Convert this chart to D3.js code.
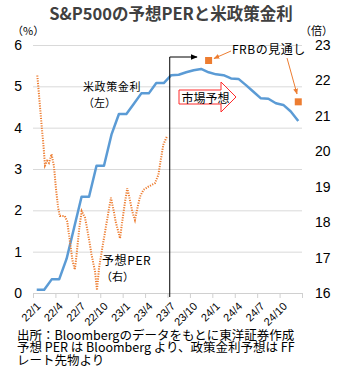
<!DOCTYPE html>
<html><head><meta charset="utf-8">
<script src="https://cdn.jsdelivr.net/npm/d3@7"></script>
<style>body{margin:0;background:#fff}svg{display:block}</style>
</head><body><svg id="c" width="340" height="380"></svg>
<script>
// ---- data ----
const months = d3.range(36).map(i => `${22 + Math.floor(i / 12)}/${i % 12 + 1}`);
const tickLabels = ["22/1","22/4","22/7","22/10","23/1","23/4","23/7","23/10","24/1","24/4","24/7","24/10"];
const policyRate = [0.08,0.08,0.33,0.33,0.83,1.58,2.33,2.33,3.08,3.08,3.83,4.33,
  4.33,4.58,4.83,4.83,5.08,5.08,5.27,5.28,5.34,5.39,5.42,5.34,
  5.29,5.27,5.19,5.18,5.03,4.87,4.71,4.70,4.59,4.55,4.39,4.16];
const perDates = ["2022-01-19","2022-01-27","2022-02-05","2022-02-11","2022-02-18","2022-02-26",
  "2022-03-05","2022-03-16","2022-03-26","2022-04-03","2022-04-12","2022-04-19","2022-05-09",
  "2022-05-19","2022-05-30","2022-06-10","2022-06-19","2022-06-26","2022-07-07","2022-07-17",
  "2022-07-31","2022-08-13","2022-08-27","2022-09-10","2022-09-18","2022-09-26","2022-10-07",
  "2022-10-21","2022-11-03","2022-11-14","2022-11-23","2022-12-03","2022-12-14","2022-12-21",
  "2022-12-30","2023-01-11","2023-01-20","2023-01-31","2023-02-09","2023-02-19","2023-02-28",
  "2023-03-11","2023-03-25","2023-04-14","2023-05-11","2023-05-25","2023-06-05","2023-06-14",
  "2023-06-28"];
const perValues = [22.14,21.50,20.75,20.28,19.60,19.73,19.67,19.92,19.58,18.96,18.40,18.17,18.17,
  18.02,17.46,16.90,16.66,17.08,17.84,18.31,18.12,17.65,17.08,16.61,16.08,16.70,17.17,
  17.73,18.25,18.69,18.39,18.01,17.73,17.54,18.01,18.58,18.96,18.63,18.30,18.06,18.39,
  18.72,18.91,19.00,19.10,19.33,19.80,20.18,20.41];
const frbMonths = ["23/12","24/12"];
const frbValues = [5.625, 4.625];
const leftTicks = [0,1,2,3,4,5,6];
const rightTicks = [16,17,18,19,20,21,22,23];

// ---- setup ----
const svg = d3.select("#c");
const m = {l: 33, r: 302, t: 45, b: 293};
const x = d3.scaleLinear().domain([0, 36]).range([m.l, m.r]);
const yL = d3.scaleLinear().domain([0, 6]).range([m.b, m.t]);
const yR = d3.scaleLinear().domain([16, 23]).range([m.b, m.t]);
const parse = d3.timeParse("%Y-%m-%d");
function monthT(s) {
  const d = parse(s);
  const y = d.getFullYear(), mo = d.getMonth();
  const dim = new Date(y, mo + 1, 0).getDate();
  return (y - 2022) * 12 + mo + (d.getDate() - 1) / dim;
}
const mPos = lab => months.indexOf(lab) + 0.5;
const JP = "'Noto Sans CJK JP', sans-serif";
const NUM = "'Liberation Sans', Arial, sans-serif";

// title
svg.append("text").attr("x", 171).attr("y", 20).attr("text-anchor", "middle")
  .attr("font-family", JP).attr("font-weight", "bold").attr("font-size", 16.5)
  .attr("fill", "#404040").text("S&P500の予想PERと米政策金利");

// gridlines
svg.append("g").attr("transform", `translate(${m.l},0)`)
  .call(d3.axisLeft(yL).tickValues(leftTicks.slice(1)).tickSize(-(m.r - m.l)).tickFormat(""))
  .call(g => g.select(".domain").remove())
  .call(g => g.selectAll("line").attr("stroke", "#d9d9d9"));

// left axis labels
svg.append("g").attr("transform", `translate(${m.l},0)`)
  .call(d3.axisLeft(yL).tickValues(leftTicks).tickSize(0).tickPadding(11).tickFormat(d3.format("d")))
  .call(g => g.select(".domain").remove())
  .call(g => g.selectAll("text").attr("font-family", NUM).attr("font-size", 14).attr("fill", "#000"));

// right axis labels
svg.append("g").attr("transform", `translate(${m.r},0)`)
  .call(d3.axisRight(yR).tickValues(rightTicks).tickSize(0).tickPadding(13).tickFormat(d3.format("d")))
  .call(g => g.select(".domain").remove())
  .call(g => g.selectAll("text").attr("font-family", NUM).attr("font-size", 14).attr("fill", "#000"));

// x axis ticks
svg.append("g").attr("transform", `translate(0,${m.b})`)
  .call(d3.axisBottom(x).tickValues(d3.range(0, 37, 3)).tickSize(5).tickSizeOuter(0).tickFormat(""))
  .call(g => g.selectAll("line,path").attr("stroke", "#d0d0d0"));

// x axis labels
svg.append("g").attr("transform", `translate(0,${m.b})`)
  .call(d3.axisBottom(x).tickValues(tickLabels.map(mPos)).tickSize(0)
    .tickFormat((d, i) => tickLabels[i]))
  .call(g => g.select(".domain").remove())
  .call(g => g.selectAll("text").attr("y", 0).attr("dy", 0)
    .attr("text-anchor", "end").attr("transform", "translate(4,14) rotate(-45)")
    .attr("font-family", NUM).attr("font-size", 11).attr("fill", "#000"));

// unit labels
svg.append("text").attr("x", 12).attr("y", 35).attr("font-family", JP).attr("font-size", 11).text("（%）");
svg.append("text").attr("x", 300).attr("y", 35).attr("font-family", JP).attr("font-size", 11).text("（倍）");

// policy rate line
svg.append("path").datum(policyRate)
  .attr("fill", "none").attr("stroke", "#5B9BD5").attr("stroke-width", 2.5).attr("stroke-linejoin", "round")
  .attr("d", d3.line().x((d, i) => x(i + 0.5)).y(d => yL(d)));

// PER line
const perData = perDates.map((d, i) => ({t: monthT(d), v: perValues[i]}));
svg.append("path").datum(perData)
  .attr("fill", "none").attr("stroke", "#ED7D31").attr("stroke-width", 2)
  .attr("stroke-dasharray", "1.2,1.3")
  .attr("d", d3.line().x(d => x(d.t)).y(d => yR(d.v)));

// FRB squares
svg.selectAll("rect.frb").data(frbValues).join("rect").attr("class", "frb")
  .attr("x", (d, i) => x(mPos(frbMonths[i])) - 3.5).attr("y", d => yL(d) - 3.5)
  .attr("width", 7).attr("height", 7).attr("fill", "#ED7D31");

// arrow markers
const defs = svg.append("defs");
defs.append("marker").attr("id", "ob").attr("viewBox", "0 0 10 10").attr("refX", 9).attr("refY", 5)
  .attr("markerWidth", 6).attr("markerHeight", 6).attr("orient", "auto")
  .append("path").attr("d", "M0,1L10,5L0,9Z").attr("fill", "#ED7D31");
defs.append("marker").attr("id", "bk").attr("viewBox", "0 0 10 10").attr("refX", 9).attr("refY", 5)
  .attr("markerWidth", 7).attr("markerHeight", 7).attr("orient", "auto")
  .append("path").attr("d", "M0,1L10,5L0,9Z").attr("fill", "#000");

// FRB annotation
svg.append("text").attr("x", 232).attr("y", 54).attr("font-family", JP).attr("font-size", 12)
  .attr("letter-spacing", 0.5).text("FRBの見通し");
svg.append("line").attr("x1", 231).attr("y1", 51).attr("x2", 214).attr("y2", 58.5)
  .attr("stroke", "#ED7D31").attr("stroke-width", 1).attr("marker-end", "url(#ob)");
svg.append("line").attr("x1", 287).attr("y1", 58).attr("x2", 297).attr("y2", 94)
  .attr("stroke", "#ED7D31").attr("stroke-width", 1).attr("marker-end", "url(#ob)");

// 23/7 arrow
svg.append("path").attr("d", `M${x(18.3)},297V57H197`).attr("fill", "none")
  .attr("stroke", "#000").attr("stroke-width", 1).attr("marker-end", "url(#bk)");

// market forecast block arrow
svg.append("path").attr("d", "M179,90H221V82L236,97L221,112V104H179Z")
  .attr("fill", "#fff").attr("stroke", "#ff2a2a").attr("stroke-width", 1);
svg.append("text").attr("x", 181.5).attr("y", 102.5).attr("font-family", JP).attr("font-size", 12)
  .text("市場予想");

// series labels (two-line labels as single text elements)
const lab1 = svg.append("text").attr("font-family", JP).attr("font-size", 11);
lab1.append("tspan").attr("x", 83).attr("y", 91).attr("letter-spacing", 0.6).text("米政策金利");
lab1.append("tspan").attr("x", 83).attr("y", 107).text("（左）");
const lab2 = svg.append("text").attr("font-family", JP);
lab2.append("tspan").attr("x", 102).attr("y", 265).attr("font-size", 12).attr("letter-spacing", 0.6).text("予想PER");
lab2.append("tspan").attr("x", 101).attr("y", 281).attr("font-size", 11).text("（右）");

// footer (one multi-line text)
const foot = ["出所：Bloombergのデータをもとに東洋証券作成",
  "予想 PER は Bloomberg より、政策金利予想は FF",
  "レート先物より"];
svg.append("text").attr("font-family", JP).attr("font-size", 12.5).attr("fill", "#000")
  .selectAll("tspan").data(foot).join("tspan")
  .attr("x", 17).attr("y", (d, i) => 339.5 + i * 12.5).text(d => d);
</script></body></html>
